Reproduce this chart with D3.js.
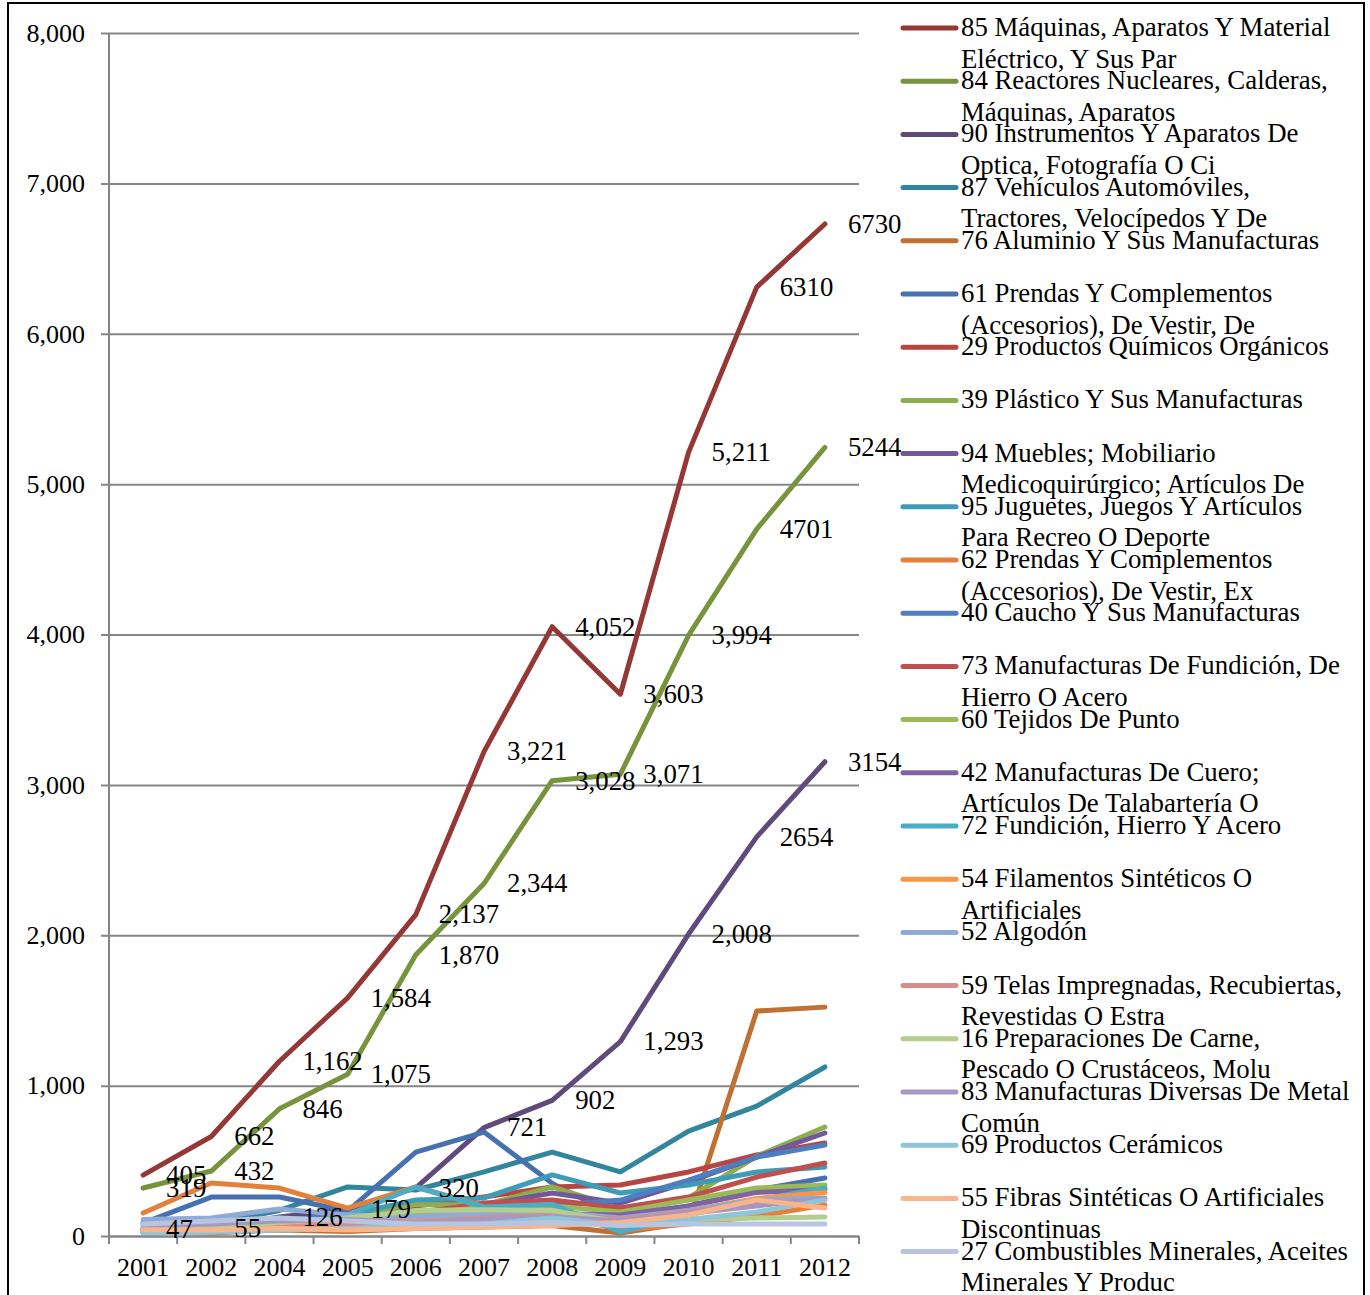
<!DOCTYPE html>
<html>
<head>
<meta charset="utf-8">
<script src="https://cdn.jsdelivr.net/npm/d3@7"></script>
<style>
  html, body { margin: 0; padding: 0; background: #fff; }
  svg { display: block; }
  text { font-family: "Liberation Serif", "Times New Roman", serif; fill: #000; }
</style>
</head>
<body>
<svg id="chart" width="1370" height="1295"></svg>
<script>
// ---------- DATA ----------
const years = ["2001","2002","2004","2005","2006","2007","2008","2009","2010","2011","2012"];
const yTicks = [0,1000,2000,3000,4000,5000,6000,7000,8000];
const yTickLabels = ["0","1,000","2,000","3,000","4,000","5,000","6,000","7,000","8,000"];

const s85 = [405, 662, 1162, 1584, 2137, 3221, 4052, 3603, 5211, 6310, 6730];
const s84 = [319, 432, 846, 1075, 1870, 2344, 3028, 3071, 3994, 4701, 5244];
const s90 = [47, 55, 126, 179, 320, 721, 902, 1293, 2008, 2654, 3154];
const s87 = [60, 80, 170, 326, 306, 426, 558, 426, 698, 864, 1124];
const s76 = [30, 20, 40, 30, 50, 60, 70, 20, 90, 1496, 1522];
const s61 = [86, 259, 259, 166, 558, 691, 350, 120, 200, 306, 386];
const s29 = [50, 70, 100, 140, 200, 260, 326, 339, 426, 539, 618];
const s39 = [40, 60, 90, 140, 210, 206, 326, 186, 253, 530, 725];
const s94 = [45, 60, 80, 106, 160, 206, 286, 219, 359, 525, 685];
const s95 = [40, 60, 100, 140, 240, 253, 406, 286, 339, 426, 459];
const s62 = [153, 352, 319, 186, 326, 200, 153, 40, 80, 130, 206];
const s40 = [80, 90, 110, 130, 160, 180, 200, 239, 372, 525, 605];
const s73 = [30, 40, 60, 90, 150, 220, 239, 186, 259, 392, 485];
const s60 = [30, 40, 60, 80, 150, 190, 200, 160, 239, 319, 339];
const s42 = [20, 30, 50, 70, 100, 130, 150, 140, 200, 290, 310];
const s72 = [20, 30, 60, 140, 326, 193, 210, 27, 140, 240, 319];
const s54 = [25, 40, 70, 90, 110, 120, 130, 100, 170, 250, 290];
const s52 = [110, 120, 180, 140, 130, 150, 160, 120, 170, 240, 253];
const s59 = [40, 50, 60, 70, 90, 120, 140, 110, 160, 220, 240];
const s16 = [50, 60, 90, 120, 170, 175, 170, 90, 110, 120, 126];
const s83 = [70, 80, 100, 110, 90, 110, 130, 100, 150, 200, 250];
const s69 = [20, 25, 40, 50, 70, 80, 120, 70, 110, 160, 240];
const s55 = [40, 40, 50, 40, 50, 60, 70, 90, 140, 240, 186];
const s27 = [80, 100, 120, 100, 80, 80, 90, 70, 80, 80, 80];

const labels85 = ["405","662","1,162","1,584","2,137","3,221","4,052","3,603","5,211","6310","6730"];
const labels84 = ["319","432","846","1,075","1,870","2,344","3,028","3,071","3,994","4701","5244"];
const labels90 = ["47","55","126","179","320","721","902","1,293","2,008","2654","3154"];

const seriesNames = [
  ["85 Máquinas, Aparatos Y Material", "Eléctrico, Y Sus Par"],
  ["84 Reactores Nucleares, Calderas,", "Máquinas, Aparatos"],
  ["90 Instrumentos Y Aparatos De", "Optica, Fotografía O Ci"],
  ["87 Vehículos Automóviles,", "Tractores, Velocípedos Y De"],
  ["76 Aluminio Y Sus Manufacturas"],
  ["61 Prendas Y Complementos", "(Accesorios), De Vestir, De"],
  ["29 Productos Químicos Orgánicos"],
  ["39 Plástico Y Sus Manufacturas"],
  ["94 Muebles; Mobiliario", "Medicoquirúrgico; Artículos De"],
  ["95 Juguetes, Juegos Y Artículos", "Para Recreo O Deporte"],
  ["62 Prendas Y Complementos", "(Accesorios), De Vestir, Ex"],
  ["40 Caucho Y Sus Manufacturas"],
  ["73 Manufacturas De Fundición, De", "Hierro O Acero"],
  ["60 Tejidos De Punto"],
  ["42 Manufacturas De Cuero;", "Artículos De Talabartería O"],
  ["72 Fundición, Hierro Y Acero"],
  ["54 Filamentos Sintéticos O", "Artificiales"],
  ["52 Algodón"],
  ["59 Telas Impregnadas, Recubiertas,", "Revestidas O Estra"],
  ["16 Preparaciones De Carne,", "Pescado O Crustáceos, Molu"],
  ["83 Manufacturas Diversas De Metal", "Común"],
  ["69 Productos Cerámicos"],
  ["55 Fibras Sintéticas O Artificiales", "Discontinuas"],
  ["27 Combustibles Minerales, Aceites", "Minerales Y Produc"]
];
const seriesValues = [s85, s84, s90, s87, s76, s61, s29, s39, s94, s95, s62, s40,
                      s73, s60, s42, s72, s54, s52, s59, s16, s83, s69, s55, s27];
const seriesLabels = [labels85, labels84, labels90];

const palette = ["#953735","#77933C","#604A7B","#31859C","#C07030","#4671B0",
                 "#B84542","#8CAE4E","#72579A","#3E9CB6","#E3803B","#4C7EC0",
                 "#C0504D","#9BBB59","#8064A2","#4BACC6","#F79646","#8FAAD6",
                 "#D48E8C","#B5CE8E","#A698C0","#8FC5D8","#F8B48A","#B8C5E0"];

// ---------- DRAW ----------
(function () {
const svg = d3.select("#chart");
const pLeft = 109, pRight = 859, pTop = 33, pBottom = 1236;
const fs = 26;
const ff = "Liberation Serif, Times New Roman, serif";

const x = d3.scaleBand().domain(years).range([pLeft, pRight]).padding(0);
const y = d3.scaleLinear().domain([0, 8000]).range([pBottom, pTop]);
const cx = yr => x(yr) + x.bandwidth() / 2;

// outer border
svg.append("rect").attr("x", 8).attr("y", 3).attr("width", 1356).attr("height", 1310)
  .attr("fill", "none").attr("stroke", "#000").attr("stroke-width", 2);

// gridlines + y axis
const gy = svg.append("g").attr("transform", `translate(${pLeft},0)`)
  .call(d3.axisLeft(y).tickValues(yTicks).tickSize(8).tickPadding(16)
        .tickFormat((d, i) => yTickLabels[i]));
gy.select(".domain").remove();
gy.selectAll(".tick line").attr("stroke", "#868686").attr("stroke-width", 2)
  .attr("x1", -8).attr("x2", pRight - pLeft);
gy.selectAll(".tick text").attr("font-size", fs).attr("font-family", ff).attr("fill", "#000");
svg.append("line").attr("x1", pLeft).attr("x2", pLeft).attr("y1", pTop).attr("y2", pBottom)
  .attr("stroke", "#868686").attr("stroke-width", 2);

// x axis
const gx = svg.append("g").attr("transform", `translate(0,${pBottom})`)
  .call(d3.axisBottom(x).tickSize(0).tickPadding(22));
gx.select(".domain").attr("stroke", "#868686").attr("stroke-width", 2);
gx.selectAll(".tick text").attr("font-size", fs).attr("font-family", ff).attr("fill", "#000");
const bounds = years.map(yr => x(yr)).concat([x.range()[1]]);
svg.append("g").selectAll("line").data(bounds).join("line")
  .attr("x1", d => d).attr("x2", d => d).attr("y1", pBottom).attr("y2", pBottom + 8)
  .attr("stroke", "#868686").attr("stroke-width", 2);

// lines
const line = d3.line().x((d, i) => cx(years[i])).y(d => y(d));
svg.append("g").selectAll("path").data(seriesValues).join("path")
  .attr("d", d => line(d))
  .attr("fill", "none")
  .attr("stroke", (d, i) => palette[i])
  .attr("stroke-width", 5)
  .attr("stroke-linejoin", "round")
  .attr("stroke-linecap", "round");

// data labels
seriesLabels.forEach((labs, si) => {
  svg.append("g").selectAll("text").data(labs).join("text")
    .attr("x", (d, i) => cx(years[i]) + 23)
    .attr("y", (d, i) => y(seriesValues[si][i]))
    .attr("dy", "0.33em")
    .attr("font-size", 26.8)
    .text(d => d);
});

// legend
const lg = svg.append("g");
seriesNames.forEach((lines, i) => {
  const ly = 28 + i * 53.2;
  lg.append("line").attr("x1", 903).attr("x2", 956).attr("y1", ly).attr("y2", ly)
    .attr("stroke", palette[i]).attr("stroke-width", 5).attr("stroke-linecap", "round");
  lines.forEach((t, k) => {
    lg.append("text").attr("x", 961).attr("y", ly + 8 + k * 31.5)
      .attr("font-size", 26.8).text(t);
  });
});
})();
</script>
</body>
</html>
